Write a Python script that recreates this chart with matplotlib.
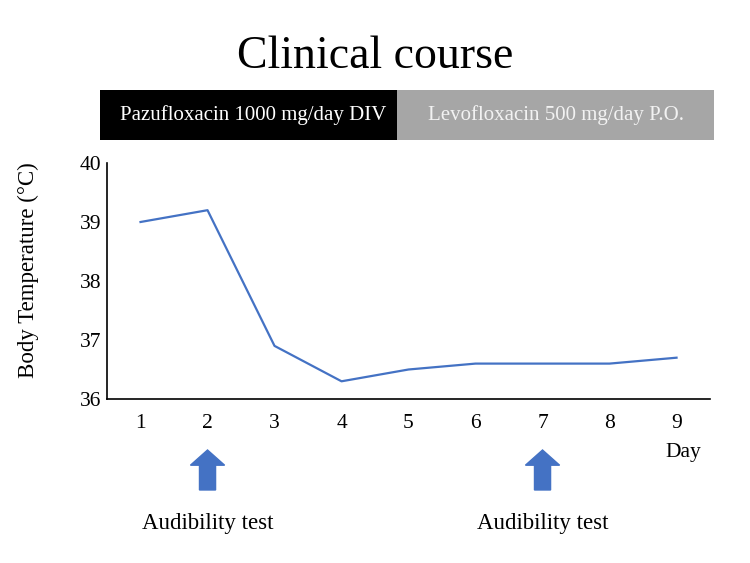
import matplotlib.pyplot as plt
from matplotlib.patches import Rectangle, FancyArrow
from matplotlib.transforms import blended_transform_factory

plt.rcParams['font.family'] = ['Liberation Serif', 'DejaVu Serif']

days = [1, 2, 3, 4, 5, 6, 7, 8, 9]
temps = [39.0, 39.2, 36.9, 36.3, 36.5, 36.6, 36.6, 36.6, 36.7]
test_days = [2, 7]
drug1 = 'Pazufloxacin 1000 mg/day DIV'
drug2 = 'Levofloxacin 500 mg/day P.O.'

fig = plt.figure(figsize=(7.5, 5.63), dpi=100)
ax = fig.add_axes([0.1427, 0.2913, 0.804, 0.4192])

ax.plot(days, temps, color='#4472C4', lw=1.6)
ax.set_xlim(0.5, 9.5)
ax.set_ylim(36, 40)
ax.set_xticks(days)
ax.set_yticks([36, 37, 38, 39, 40])
ax.tick_params(length=0, labelsize=15.5, pad=11)
ax.tick_params(axis='y', pad=4)
for s in ['top', 'right']:
    ax.spines[s].set_visible(False)
for s in ['left', 'bottom']:
    ax.spines[s].set_linewidth(1.2)
ax.set_ylabel('Body Temperature (°C)', fontsize=16.5)
ax.yaxis.set_label_coords(-0.112, 0.547)

# title
fig.text(0.5, 0.9, 'Clinical course', ha='center', va='center', fontsize=33)

# treatment band
fig.patches.append(Rectangle((0.1333, 0.7513), 0.396, 0.0888, transform=fig.transFigure,
                             facecolor='black', edgecolor='none'))
fig.patches.append(Rectangle((0.5293, 0.7513), 0.4227, 0.0888, transform=fig.transFigure,
                             facecolor='#a6a6a6', edgecolor='none'))
fig.text(0.337, 0.7957, drug1, color='white', ha='center', va='center', fontsize=15)
fig.text(0.741, 0.7957, drug2, color='#f2f2f2', ha='center', va='center', fontsize=15)

# audibility test arrows
tr = blended_transform_factory(ax.transData, fig.transFigure)
for d in test_days:
    arr = FancyArrow(d, 0.1297, 0, 0.071, width=0.24, head_width=0.51,
                     head_length=0.027, length_includes_head=True,
                     transform=tr, color='#4472C4', clip_on=False)
    fig.patches.append(arr)
    fig.text(d, 0.07, 'Audibility test', transform=tr, ha='center', va='center', fontsize=16.5)

fig.text(9.1, 0.197, 'Day', transform=tr, ha='center', va='center', fontsize=15.5)

fig.savefig('out.png', dpi=100)
